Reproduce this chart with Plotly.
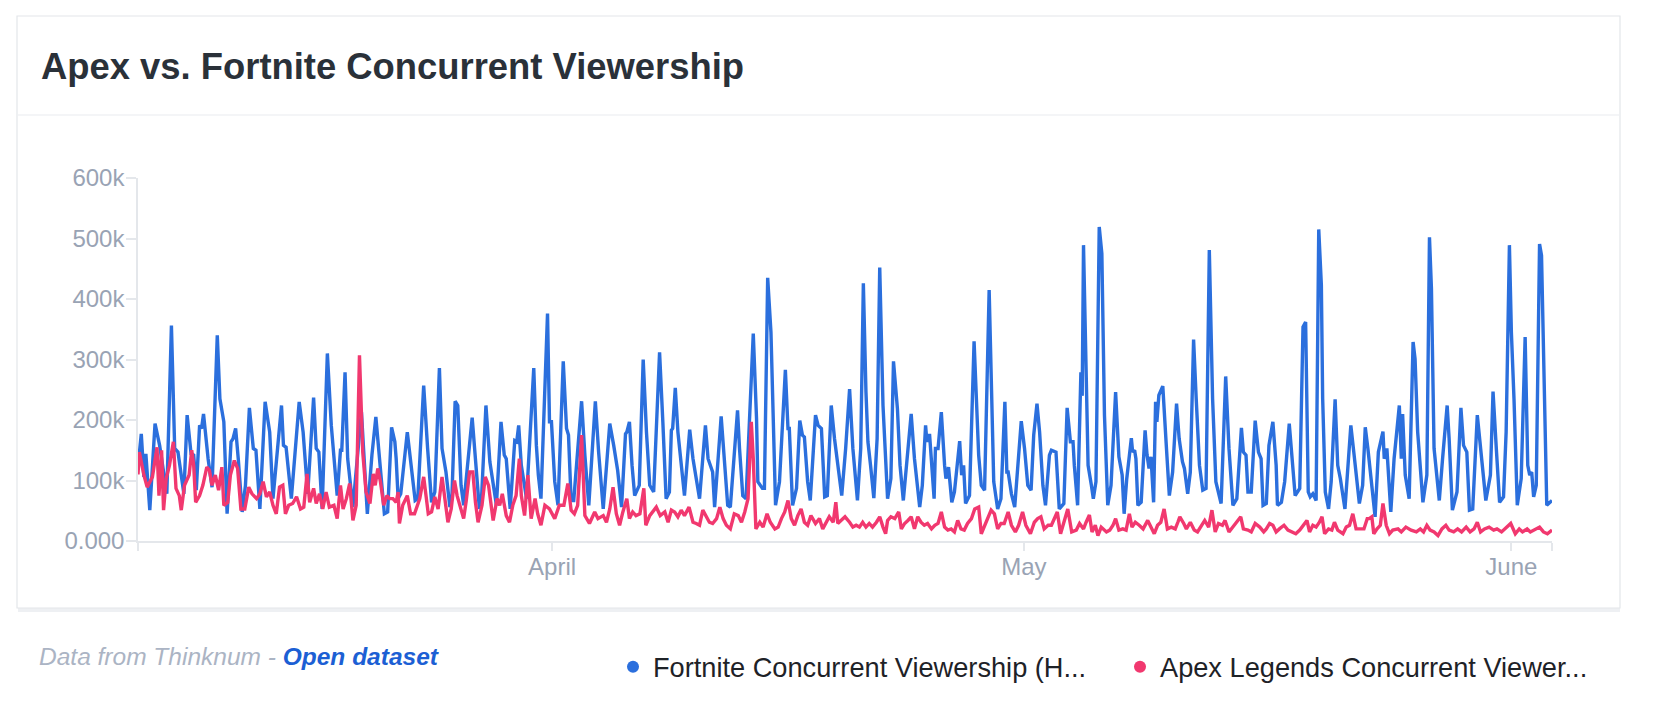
import pandas as pd
import plotly.graph_objects as go

# ---------------- data ----------------
START = "2019-03-05 16:00"   # first sample of both series
END_HOURS = 2158             # last sample, hours after START

# Fortnite concurrent viewership: hours after START, thousands of viewers
fortnite_hours = [
    0, 5, 9, 12, 18, 26, 33, 44, 51, 56, 61, 70, 75, 81, 85, 89, 94, 97, 100, 107,
    113, 121, 125, 131, 136, 142, 145, 149, 153, 159, 164, 170, 176, 180, 186, 194, 201, 206, 219, 222,
    226, 234, 246, 252, 259, 268, 272, 276, 281, 289, 295, 299, 304, 309, 311, 316, 320, 328, 341, 350,
    357, 363, 369, 376, 381, 387, 392, 394, 397, 401, 411, 417, 423, 427, 436, 442, 448, 453, 460, 464,
    470, 476, 479, 484, 488, 493, 497, 510, 516, 521, 524, 531, 537, 547, 554, 559, 562, 568, 575, 578,
    581, 585, 593, 604, 608, 611, 615, 625, 628, 631, 636, 641, 649, 654, 657, 661, 665, 677, 682, 688,
    698, 703, 710, 720, 726, 732, 738, 744, 746, 750, 754, 758, 765, 771, 776, 781, 787, 796, 801, 806,
    811, 814, 816, 820, 824, 829, 834, 842, 847, 852, 857, 866, 870, 877, 880, 890, 895, 900, 904, 915,
    918, 923, 928, 939, 944, 946, 953, 956, 961, 966, 973, 979, 988, 992, 994, 999, 1005, 1010, 1014, 1017,
    1022, 1026, 1034, 1038, 1043, 1048, 1052, 1058, 1063, 1068, 1074, 1080, 1086, 1091, 1098, 1103, 1107, 1111, 1114, 1118,
    1123, 1128, 1132, 1137, 1142, 1144, 1149, 1153, 1159, 1163, 1168, 1175, 1180, 1185, 1193, 1197, 1202, 1204, 1208, 1215,
    1217, 1221, 1226, 1231, 1233, 1237, 1242, 1246, 1254, 1257, 1260, 1263, 1269, 1276, 1279, 1283, 1287, 1292, 1299, 1302,
    1306, 1312, 1317, 1323, 1326, 1328, 1333, 1338, 1348, 1353, 1358, 1363, 1367, 1372, 1376, 1381, 1385, 1391, 1394, 1401,
    1406, 1413, 1418, 1423, 1427, 1429, 1434, 1439, 1441, 1443, 1447, 1450, 1455, 1458, 1462, 1467, 1471, 1475, 1480, 1485,
    1492, 1497, 1502, 1505, 1509, 1516, 1518, 1521, 1523, 1526, 1531, 1537, 1540, 1543, 1546, 1550, 1553, 1555, 1558, 1564,
    1569, 1574, 1579, 1585, 1589, 1594, 1597, 1602, 1606, 1611, 1615, 1620, 1625, 1630, 1635, 1640, 1645, 1653, 1660, 1665,
    1671, 1677, 1684, 1687, 1691, 1694, 1699, 1705, 1710, 1714, 1717, 1722, 1726, 1732, 1737, 1739, 1745, 1750, 1757, 1762,
    1766, 1773, 1778, 1782, 1784, 1786, 1789, 1793, 1798, 1802, 1806, 1808, 1812, 1817, 1821, 1827, 1831, 1835, 1842, 1851,
    1856, 1864, 1869, 1873, 1877, 1882, 1888, 1893, 1896, 1900, 1902, 1906, 1912, 1917, 1925, 1928, 1930, 1934, 1940, 1946,
    1949, 1953, 1961, 1967, 1971, 1974, 1978, 1986, 1991, 1998, 2001, 2006, 2013, 2019, 2023, 2028, 2032, 2037, 2044, 2049,
    2057, 2064, 2068, 2073, 2078, 2084, 2088, 2093, 2096, 2100, 2105, 2111, 2117, 2121, 2124, 2127, 2130, 2134, 2139, 2142,
    2145, 2150, 2158,
]
fortnite_k = [
    122, 177, 106, 144, 51, 194, 158, 78, 356, 153, 147, 78, 208, 144, 142, 84, 191, 186, 210, 136,
    89, 340, 235, 197, 45, 164, 169, 186, 136, 48, 92, 220, 153, 150, 53, 230, 180, 70, 224, 158,
    155, 70, 230, 180, 78, 237, 153, 147, 53, 310, 191, 136, 75, 150, 150, 279, 136, 56, 213, 45,
    142, 205, 125, 45, 48, 188, 164, 136, 70, 78, 180, 125, 67, 70, 257, 153, 64, 81, 286, 153,
    114, 56, 70, 231, 224, 92, 59, 204, 120, 53, 64, 224, 131, 59, 197, 142, 136, 53, 166, 164,
    191, 125, 70, 286, 158, 109, 70, 376, 197, 197, 98, 59, 297, 186, 175, 67, 67, 231, 142, 59,
    231, 147, 53, 194, 158, 117, 56, 177, 180, 197, 125, 75, 92, 300, 180, 92, 81, 312, 197, 70,
    81, 183, 186, 253, 180, 125, 75, 184, 136, 103, 70, 191, 136, 114, 56, 206, 131, 59, 56, 216,
    153, 75, 70, 343, 202, 98, 87, 87, 435, 345, 59, 98, 283, 186, 186, 59, 87, 199, 175, 172,
    98, 67, 208, 191, 186, 73, 75, 224, 169, 125, 75, 153, 251, 153, 67, 153, 426, 246, 164, 125,
    71, 169, 452, 224, 125, 70, 103, 297, 219, 125, 67, 153, 210, 136, 56, 92, 191, 164, 177, 70,
    153, 153, 213, 125, 103, 122, 64, 81, 165, 109, 125, 62, 75, 330, 235, 142, 92, 84, 415, 279,
    98, 53, 70, 230, 114, 114, 78, 56, 198, 153, 92, 84, 175, 227, 180, 92, 59, 142, 150, 147,
    53, 62, 220, 164, 164, 125, 59, 279, 240, 489, 235, 125, 92, 70, 98, 519, 475, 208, 59, 92,
    246, 139, 109, 45, 103, 170, 147, 150, 136, 59, 64, 183, 142, 120, 139, 64, 230, 197, 241, 256,
    164, 75, 114, 227, 169, 131, 120, 78, 114, 333, 235, 125, 84, 87, 481, 235, 98, 62, 272, 153,
    59, 70, 187, 147, 142, 81, 81, 199, 147, 136, 59, 62, 158, 197, 125, 59, 64, 98, 194, 125,
    75, 87, 354, 362, 235, 81, 73, 78, 67, 515, 423, 235, 81, 53, 98, 234, 125, 103, 53, 191,
    142, 62, 92, 188, 153, 98, 40, 147, 164, 181, 136, 153, 48, 136, 224, 136, 210, 109, 70, 329,
    301, 180, 64, 109, 502, 417, 153, 67, 136, 224, 169, 51, 81, 220, 158, 147, 51, 53, 208, 153,
    67, 109, 247, 153, 64, 73, 180, 489, 345, 235, 59, 103, 337, 125, 109, 114, 73, 92, 491, 472,
    290, 59, 67,
]

# Apex Legends concurrent viewership: hours after START, thousands of viewers
apex_hours = [
    0, 2, 5, 9, 14, 18, 22, 29, 32, 36, 39, 43, 48, 54, 58, 63, 66, 71, 78, 82,
    85, 88, 94, 99, 105, 109, 113, 118, 123, 128, 131, 137, 141, 147, 152, 157, 163, 169, 174, 181,
    186, 191, 196, 201, 206, 211, 216, 221, 225, 230, 236, 242, 248, 253, 258, 262, 268, 272, 277, 282,
    287, 292, 299, 304, 309, 313, 318, 323, 328, 333, 338, 343, 348, 354, 359, 362, 366, 370, 375, 380,
    384, 389, 394, 397, 399, 404, 411, 416, 422, 430, 436, 443, 448, 453, 458, 464, 468, 473, 478, 483,
    487, 491, 497, 501, 506, 511, 515, 519, 525, 530, 535, 542, 548, 552, 556, 562, 567, 572, 577, 582,
    585, 590, 595, 600, 606, 610, 615, 621, 628, 636, 643, 650, 656, 661, 666, 671, 677, 682, 689, 697,
    702, 710, 715, 720, 725, 730, 735, 740, 746, 750, 755, 760, 766, 772, 775, 781, 786, 791, 797, 804,
    809, 814, 819, 824, 829, 834, 841, 847, 852, 857, 862, 867, 872, 877, 883, 888, 893, 898, 904, 910,
    916, 921, 926, 931, 936, 939, 943, 949, 954, 960, 965, 972, 977, 982, 987, 992, 997, 1002, 1007, 1012,
    1017, 1022, 1027, 1034, 1040, 1045, 1050, 1055, 1061, 1065, 1068, 1073, 1079, 1086, 1091, 1096, 1101, 1106, 1111, 1116,
    1121, 1127, 1132, 1137, 1141, 1144, 1149, 1155, 1161, 1165, 1170, 1175, 1180, 1185, 1190, 1195, 1200, 1205, 1211, 1216,
    1221, 1226, 1231, 1236, 1241, 1246, 1251, 1256, 1261, 1266, 1272, 1277, 1283, 1287, 1292, 1297, 1302, 1307, 1312, 1317,
    1322, 1328, 1333, 1339, 1344, 1350, 1355, 1362, 1368, 1373, 1378, 1383, 1389, 1394, 1399, 1403, 1408, 1413, 1419, 1425,
    1432, 1437, 1443, 1447, 1452, 1456, 1461, 1465, 1470, 1478, 1483, 1488, 1492, 1497, 1503, 1508, 1513, 1517, 1522, 1528,
    1534, 1541, 1546, 1551, 1556, 1561, 1566, 1571, 1577, 1583, 1587, 1590, 1596, 1600, 1606, 1612, 1617, 1623, 1628, 1634,
    1639, 1644, 1649, 1655, 1659, 1665, 1671, 1676, 1683, 1687, 1694, 1699, 1705, 1712, 1718, 1722, 1727, 1732, 1737, 1742,
    1749, 1755, 1762, 1767, 1773, 1778, 1784, 1788, 1793, 1798, 1803, 1807, 1811, 1817, 1822, 1826, 1831, 1839, 1844, 1849,
    1854, 1859, 1864, 1871, 1876, 1879, 1883, 1886, 1891, 1896, 1900, 1905, 1910, 1915, 1923, 1928, 1935, 1943, 1951, 1957,
    1962, 1967, 1972, 1978, 1984, 1990, 1996, 2001, 2008, 2014, 2020, 2027, 2033, 2039, 2044, 2049, 2055, 2062, 2069, 2074,
    2081, 2088, 2095, 2102, 2108, 2113, 2120, 2125, 2131, 2139, 2145, 2151, 2158,
]
apex_k = [
    110, 147, 131, 109, 89, 98, 106, 155, 75, 150, 51, 103, 125, 164, 87, 75, 51, 92, 109, 150,
    125, 64, 75, 92, 122, 117, 92, 109, 84, 122, 59, 64, 109, 133, 120, 53, 53, 89, 78, 70,
    78, 98, 73, 81, 59, 45, 89, 92, 45, 59, 62, 73, 53, 56, 111, 64, 87, 62, 78, 53,
    81, 56, 59, 37, 92, 53, 70, 95, 34, 59, 307, 147, 81, 62, 111, 92, 120, 98, 59, 75,
    70, 70, 64, 81, 29, 59, 75, 45, 45, 70, 106, 45, 48, 73, 53, 106, 70, 31, 53, 100,
    75, 59, 37, 67, 114, 114, 64, 31, 59, 106, 92, 34, 70, 59, 78, 42, 31, 59, 75, 136,
    75, 42, 109, 37, 70, 45, 26, 59, 53, 37, 59, 59, 95, 51, 45, 59, 175, 42, 29, 48,
    37, 42, 31, 53, 89, 45, 26, 48, 70, 37, 48, 42, 45, 87, 26, 42, 48, 56, 42, 48,
    31, 51, 48, 40, 51, 42, 56, 31, 29, 26, 51, 42, 31, 29, 37, 56, 37, 26, 20, 45,
    42, 31, 48, 70, 197, 136, 20, 31, 23, 45, 31, 20, 23, 37, 48, 67, 37, 26, 42, 53,
    31, 26, 42, 29, 37, 20, 31, 40, 31, 64, 29, 34, 40, 31, 23, 26, 23, 31, 23, 29,
    23, 31, 40, 23, 12, 34, 40, 37, 48, 20, 29, 34, 40, 20, 40, 31, 26, 29, 20, 26,
    29, 48, 23, 18, 20, 15, 34, 20, 18, 29, 37, 53, 56, 12, 26, 37, 51, 45, 20, 29,
    29, 48, 26, 15, 26, 48, 26, 12, 31, 37, 40, 20, 26, 26, 40, 48, 12, 31, 53, 15,
    18, 29, 20, 31, 43, 15, 26, 9, 23, 15, 18, 26, 37, 18, 20, 18, 45, 23, 31, 26,
    20, 34, 23, 12, 26, 31, 53, 20, 23, 20, 31, 40, 29, 20, 31, 18, 15, 26, 34, 23,
    51, 15, 29, 26, 34, 15, 23, 29, 40, 20, 18, 15, 29, 23, 15, 20, 29, 26, 15, 20,
    26, 18, 15, 12, 18, 26, 34, 15, 26, 23, 31, 40, 12, 20, 18, 31, 18, 12, 23, 26,
    45, 20, 20, 20, 37, 37, 40, 12, 20, 26, 62, 26, 12, 18, 20, 15, 23, 18, 15, 20,
    15, 26, 18, 15, 9, 20, 26, 18, 15, 20, 15, 23, 15, 20, 31, 15, 20, 23, 18, 20,
    15, 23, 29, 12, 20, 15, 20, 15, 18, 23, 15, 12, 18,
]

series_names = ["Fortnite Concurrent Viewership (H...", "Apex Legends Concurrent Viewer..."]
series_colors = ["#2b6fdd", "#f1386f"]
y_tickvals = [0, 100000, 200000, 300000, 400000, 500000, 600000]
y_ticktext = ["0.000", "100k", "200k", "300k", "400k", "500k", "600k"]
x_tick_dates = ["2019-04-01", "2019-05-01", "2019-06-01"]
x_tick_text = ["April", "May", "June"]
title_text = "Apex vs. Fortnite Concurrent Viewership"

# ---------------- build ----------------
start = pd.Timestamp(START)
end = start + pd.Timedelta(hours=END_HOURS)
f_x = start + pd.to_timedelta(fortnite_hours, unit="h")
a_x = start + pd.to_timedelta(apex_hours, unit="h")
f_y = [v * 1000 for v in fortnite_k]
a_y = [v * 1000 for v in apex_k]

# the page body has an 8px margin, so the figure is sized to fit inside the window
OFF = 8
W, H = 1660 - 2 * OFF, 712 - 2 * OFF
ML, MR, MT, MB = 130, 100, 170, 163
PW, PH = W - ML - MR, H - MT - MB


def px(sx):
    """screen x (px) -> paper coordinate"""
    return (sx - OFF - ML) / PW


def py(sy):
    """screen y (px) -> paper coordinate"""
    return (H - MB - (sy - OFF)) / PH


FONT = "Liberation Sans, Arial, Helvetica, sans-serif"

fig = go.Figure()
fig.add_trace(go.Scatter(x=f_x, y=f_y, mode="lines", name=series_names[0],
                         line=dict(color=series_colors[0], width=3.4), showlegend=False))
fig.add_trace(go.Scatter(x=a_x, y=a_y, mode="lines", name=series_names[1],
                         line=dict(color=series_colors[1], width=3.4), showlegend=False))
# legend entries (dot symbols)
for name, col in zip(series_names, series_colors):
    fig.add_trace(go.Scatter(x=[None], y=[None], mode="markers", name=name,
                             marker=dict(color=col, size=12), showlegend=True))

tickvals_x = [start] + [pd.Timestamp(d) for d in x_tick_dates] + [end]
ticktext_x = [""] + x_tick_text + [""]

axis_col = "#e4e7eb"
tick_font = dict(family=FONT, size=24, color="#99a3b4")

fig.update_layout(
    width=W, height=H,
    margin=dict(l=ML, r=MR, t=MT, b=MB, autoexpand=False),
    paper_bgcolor="white", plot_bgcolor="white",
    font=dict(family=FONT),
    xaxis=dict(type="date", range=[start, end], tickmode="array",
               tickvals=tickvals_x, ticktext=ticktext_x,
               showgrid=False, zeroline=False, showline=True, linecolor=axis_col, linewidth=1.5,
               ticks="outside", ticklen=8, tickcolor=axis_col, tickwidth=1.5,
               ticklabelstandoff=-5, tickfont=tick_font),
    yaxis=dict(range=[0, 600000], tickmode="array", tickvals=y_tickvals, ticktext=y_ticktext,
               showgrid=False, zeroline=False, showline=True, linecolor=axis_col, linewidth=1.5,
               ticks="outside", ticklen=10, tickcolor=axis_col, tickwidth=1.5,
               ticklabelstandoff=-3, tickfont=tick_font),
    legend=dict(orientation="h", x=px(613), xanchor="left", y=py(667), yanchor="middle",
                font=dict(family=FONT, size=27.2, color="#1e2227"),
                itemsizing="constant", bgcolor="rgba(0,0,0,0)", itemclick=False,
                entrywidth=462, entrywidthmode="pixels"),
    showlegend=True,
)

# card, header separator, shadow
fig.add_shape(type="rect", xref="paper", yref="paper", layer="below",
              x0=px(18), x1=px(1620), y0=py(612), y1=py(22),
              line=dict(width=0), fillcolor="#eef0f3")
fig.add_shape(type="rect", xref="paper", yref="paper", layer="below",
              x0=px(17), x1=px(1620), y0=py(608), y1=py(16),
              line=dict(width=1.2, color="#e3e6ea"), fillcolor="white")
fig.add_shape(type="line", xref="paper", yref="paper", layer="below",
              x0=px(18), x1=px(1619), y0=py(115), y1=py(115),
              line=dict(width=1.2, color="#e9ecef"))

fig.add_annotation(xref="paper", yref="paper", x=px(39), y=py(66), xanchor="left", yanchor="middle",
                   text="<b>" + title_text + "</b>", showarrow=False,
                   font=dict(family=FONT, size=36.4, color="#2a3139"))
fig.add_annotation(xref="paper", yref="paper", x=px(37), y=py(656), xanchor="left", yanchor="middle",
                   text="<i>Data from Thinknum - </i><span style='color:#1c5fd4'><b><i>Open dataset</i></b></span>",
                   showarrow=False,
                   font=dict(family=FONT, size=24.5, color="#abb4c4"))

fig.write_html("out.html")
